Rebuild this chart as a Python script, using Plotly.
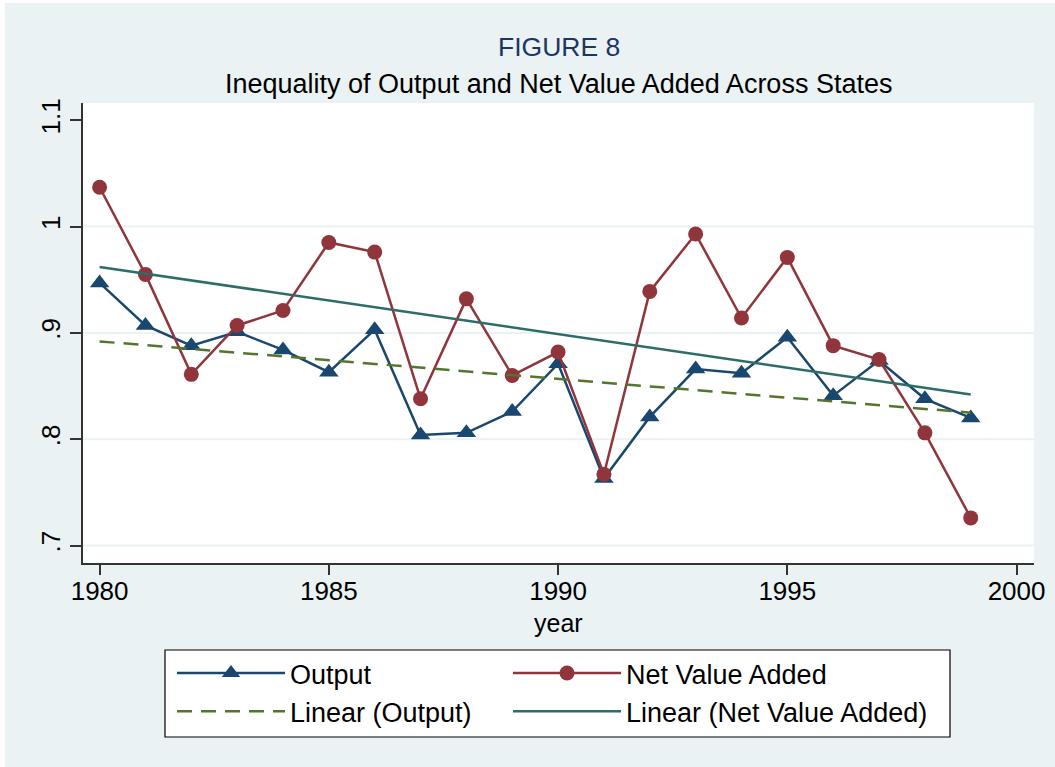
import plotly.graph_objects as go

years = list(range(1980, 2000))
output = [0.947, 0.907, 0.888, 0.901, 0.884, 0.863, 0.903, 0.804, 0.806, 0.826,
          0.871, 0.763, 0.821, 0.866, 0.862, 0.896, 0.841, 0.874, 0.838, 0.820]
nva = [1.037, 0.955, 0.861, 0.907, 0.921, 0.985, 0.976, 0.838, 0.932, 0.860,
       0.882, 0.767, 0.939, 0.993, 0.914, 0.971, 0.888, 0.875, 0.806, 0.726]
trend_years = [1980, 1999]
trend_output = [0.892, 0.825]
trend_nva = [0.962, 0.842]

y_ticks = [0.7, 0.8, 0.9, 1.0, 1.1]
y_ticktext = [".7", ".8", ".9", "1", "1.1"]
grid_vals = [0.7, 0.8, 0.9, 1.0]
x_ticks = [1980, 1985, 1990, 1995, 2000]

NAVY = "#1a476f"
MAROON = "#90353b"
GREEN = "#55752f"
TEAL = "#2d6d66"
BG = "#eaf2f3"
FONT = "Liberation Sans, Arial, sans-serif"

fig = go.Figure()
fig.add_trace(go.Scatter(x=years, y=output, name="Output", mode="lines+markers",
                         line=dict(color=NAVY, width=2.5), legend="legend",
                         marker=dict(symbol="triangle-up", size=17, color=NAVY)))
fig.add_trace(go.Scatter(x=years, y=nva, name="Net Value Added", mode="lines+markers",
                         line=dict(color=MAROON, width=2.5), legend="legend2",
                         marker=dict(symbol="circle", size=15, color=MAROON)))
fig.add_trace(go.Scatter(x=trend_years, y=trend_output, name="Linear (Output)", mode="lines",
                         legend="legend",
                         line=dict(color=GREEN, width=2.5, dash="15px,9px")))
fig.add_trace(go.Scatter(x=trend_years, y=trend_nva, name="Linear (Net Value Added)", mode="lines",
                         legend="legend2",
                         line=dict(color=TEAL, width=2.5)))

L, R, T, B = 83, 21, 103, 204
W, H = 1055, 767
pw = W - L - R
ph = H - T - B

shapes = []
for g in grid_vals:
    shapes.append(dict(type="line", xref="paper", yref="y", x0=0, x1=1, y0=g, y1=g,
                       line=dict(color=BG, width=2), layer="below"))
# legend box
shapes.append(dict(type="rect", xref="paper", yref="paper",
                   x0=(165 - L) / pw, x1=(950 - L) / pw,
                   y0=(H - B - 737) / ph, y1=(H - B - 650) / ph,
                   fillcolor="white", line=dict(color="black", width=1.2), layer="above"))
# thin white frame at top and left
shapes.append(dict(type="rect", xref="paper", yref="paper",
                   x0=-L / pw, x1=(5 - L) / pw, y0=-B / ph, y1=(H - B) / ph,
                   fillcolor="white", line=dict(width=0), layer="above"))
shapes.append(dict(type="rect", xref="paper", yref="paper",
                   x0=-L / pw, x1=(W - L) / pw, y0=(H - B - 3) / ph, y1=(H - B) / ph,
                   fillcolor="white", line=dict(width=0), layer="above"))

leg_common = dict(orientation="v", xanchor="left", yanchor="top",
                  bgcolor="rgba(0,0,0,0)", borderwidth=0, itemwidth=108,
                  font=dict(size=27, family=FONT), traceorder="normal")

fig.update_layout(
    width=W, height=H,
    margin=dict(l=L, r=R, t=T, b=B, autoexpand=False),
    paper_bgcolor=BG, plot_bgcolor="white",
    font=dict(family=FONT, size=26, color="black"),
    shapes=shapes,
    annotations=[
        dict(text="FIGURE 8", xref="paper", yref="paper", x=0.5, y=(H - B - 47) / ph,
             showarrow=False, font=dict(size=26.5, color="#1c3661"), xanchor="center", yanchor="middle"),
        dict(text="Inequality of Output and Net Value Added Across States", xref="paper", yref="paper",
             x=0.5, y=(H - B - 84) / ph, showarrow=False, font=dict(size=27, color="black"),
             xanchor="center", yanchor="middle"),
        dict(text="year", xref="paper", yref="paper", x=0.5, y=(H - B - 623) / ph,
             showarrow=False, font=dict(size=25, color="black"),
             xanchor="center", yanchor="middle"),
    ],
    showlegend=True,
    legend=dict(x=(172 - L) / pw, y=(H - B - 649) / ph, **leg_common),
    legend2=dict(x=(508 - L) / pw, y=(H - B - 649) / ph, **leg_common),
    xaxis=dict(range=[1979.638, 2000.38], tickvals=x_ticks, ticks="outside", ticklen=10,
               tickwidth=1.5, tickcolor="#333333", showline=True, linecolor="#333333", linewidth=1.5,
               showgrid=False, zeroline=False, ticklabelstandoff=-6,
               tickfont=dict(size=26)),
    yaxis=dict(range=[0.6836, 1.1162], tickvals=y_ticks, ticktext=y_ticktext, ticks="outside",
               ticklen=11, tickwidth=1.5, tickcolor="#333333", showline=True, linecolor="#333333",
               linewidth=1.5, showgrid=False, zeroline=False, tickangle=-90,
               tickfont=dict(size=26)),
)

fig.write_html("out.html", config={"displayModeBar": False},
               post_script="document.body.style.margin='0';document.body.style.overflow='hidden';")
